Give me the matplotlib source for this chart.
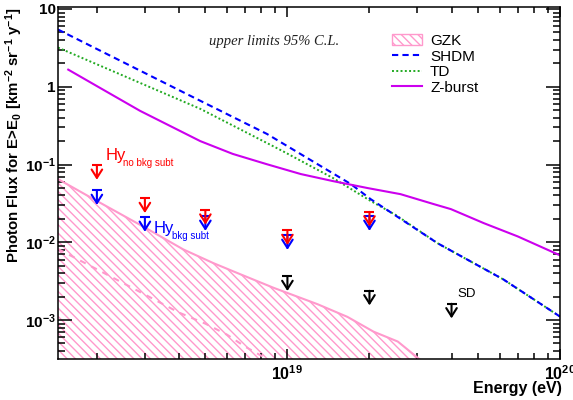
import matplotlib.pyplot as plt
import matplotlib.patches as mpatches
from matplotlib.lines import Line2D
from matplotlib.ticker import FixedLocator, FixedFormatter, NullFormatter, LogLocator

plt.rcParams['font.family'] = ['Liberation Sans', 'DejaVu Sans']
plt.rcParams['mathtext.fontset'] = 'custom'
plt.rcParams['mathtext.rm'] = 'Liberation Sans:bold'
plt.rcParams['mathtext.it'] = 'Liberation Sans:italic:bold'
plt.rcParams['mathtext.bf'] = 'Liberation Sans:bold'
plt.rcParams['hatch.linewidth'] = 1.0

# integral photon flux above E0 [km^-2 sr^-1 y^-1]
gzk_E = [1.44e18, 2.0e18, 3.0e18, 4.15e18, 5.35e18, 6.7e18, 8.9e18, 1.29e19,
         1.66e19, 2.07e19, 2.54e19, 3.03e19, 3.6e19]
gzk_F = [0.065, 0.034, 0.0155, 0.0081, 0.0054, 0.0039, 0.0026, 0.0016,
         0.0011, 0.00071, 0.00053, 0.00032, 0.00018]
gzk_low_E = [1.44e18, 2e18, 3e18, 4e18, 5e18, 6e18, 7e18, 8.5e18]
gzk_low_F = [0.0082, 0.0045, 0.00213, 0.00125, 0.0009, 0.00065, 0.000455, 0.00031]

shdm_E = [1.44e18, 4.79e18, 8.4e18, 1.1e19, 1.71e19, 2.02e19, 3.56e19, 6.2e19, 1.0e20]
shdm_F = [5.44, 0.66, 0.248, 0.141, 0.056, 0.0359, 0.0097, 0.00333, 0.00111]
td_E = [1.44e18, 4.79e18, 9.6e18, 1.47e19, 2.02e19, 2.5e19, 3.56e19, 6.2e19, 1.0e20]
td_F = [3.19, 0.52, 0.149, 0.067, 0.034, 0.0224, 0.0097, 0.00333, 0.00111]
zb_E = [1.57e18, 2.05e18, 2.88e18, 4.79e18, 6.3e18, 8.4e18, 1.12e19, 1.47e19,
        1.97e19, 2.6e19, 3.44e19, 3.98e19, 5.26e19, 7.0e19, 1.0e20]
zb_F = [1.66, 0.97, 0.49, 0.20, 0.137, 0.101, 0.0754, 0.0612, 0.0498, 0.0416,
        0.031, 0.0267, 0.0176, 0.0119, 0.0068]

# upper limits 95% C.L.
hy_E = [2e18, 3e18, 5e18, 1e19, 2e19]
hy_nobkg = [0.098, 0.0366, 0.026, 0.0142, 0.0246]
hy_bkg = [0.0465, 0.021, 0.0216, 0.0123, 0.0216]
sd_E = [1e19, 2e19, 4e19]
sd_F = [0.00364, 0.00238, 0.00162]

pink = '#ff99cc'
hatch = '\\' * 4
W, H = 573, 400

fig = plt.figure(figsize=(W / 100, H / 100), dpi=100)
ax = fig.add_axes([58 / W, 1 - 359 / H, (560 - 58) / W, (359 - 7) / H])
ax.set_xscale('log')
ax.set_yscale('log')
ax.set_xlim(1.44e18, 1e20)
ax.set_ylim(3.16e-4, 10.6)

# GZK band
ax.fill_between(gzk_E, gzk_F, 1e-6, facecolor='none', edgecolor=pink,
                hatch=hatch, linewidth=0)
ax.plot(gzk_E, gzk_F, color=pink, lw=1.5)
ax.plot(gzk_low_E, gzk_low_F, color=pink, lw=1.5, dashes=(3, 3))

# models
ax.plot(td_E, td_F, color='#22aa22', lw=1.4, linestyle=(0, (1, 1.2)))
ax.plot(shdm_E, shdm_F, color='#0000ff', lw=1.5, dashes=(3, 2))
ax.plot(zb_E, zb_F, color='#cc00ee', lw=1.5)


def upper_limits(E, F, color):
    ax.plot(E, F, linestyle='none', marker='_', markersize=7.5,
            markeredgewidth=1.5, color=color)
    for e, f in zip(E, F):
        ax.annotate('', xy=(e, f), xycoords='data', xytext=(0, -10.5),
                    textcoords='offset points',
                    arrowprops=dict(arrowstyle='<-,head_length=0.6,head_width=0.38',
                                    lw=1.5, color=color, shrinkA=0, shrinkB=0,
                                    mutation_scale=10))


upper_limits(hy_E, hy_bkg, '#0000ff')
upper_limits(hy_E, hy_nobkg, '#ff0000')
upper_limits(sd_E, sd_F, 'black')

# ticks
ax.tick_params(which='both', direction='in', top=True, right=True, width=1.1)
ax.tick_params(axis='y', which='major', length=10, pad=1.5)
ax.tick_params(axis='y', which='minor', length=5)
ax.tick_params(axis='x', which='major', length=7.5, pad=4)
ax.tick_params(axis='x', which='minor', length=4)
ax.xaxis.set_major_locator(FixedLocator([1e19, 1e20]))
ax.xaxis.set_major_formatter(FixedFormatter(['$10^{19}$', '$10^{20}$']))
ax.xaxis.set_minor_locator(LogLocator(base=10, subs=range(2, 10)))
ax.xaxis.set_minor_formatter(NullFormatter())
ax.yaxis.set_major_locator(FixedLocator([1e-3, 1e-2, 1e-1, 1, 10]))
ax.yaxis.set_major_formatter(FixedFormatter(['$10^{-3}$', '$10^{-2}$', '$10^{-1}$', '1', '10']))
ax.yaxis.set_minor_locator(LogLocator(base=10, subs=range(2, 10)))
ax.yaxis.set_minor_formatter(NullFormatter())
for lab in ax.get_xticklabels():
    lab.set_fontsize(11.5)
    lab.set_fontweight('bold')
for lab in ax.get_yticklabels():
    lab.set_fontsize(11)
    lab.set_fontweight('bold')
for s in ax.spines.values():
    s.set_linewidth(1.1)

# axis titles
fig.text(14 / W, 1 - 8 / H, 'Photon Flux for E>E$_0$ [km$^{-2}$ sr$^{-1}$ y$^{-1}$]',
         rotation=90, ha='center', va='top', fontsize=10.8, fontweight='bold')
fig.text(562 / W, 1 - 393 / H, 'Energy (eV)', ha='right', va='baseline',
         fontsize=11.5, fontweight='bold')

# annotations


def px(x, y):
    return x / W, 1 - y / H


fig.text(*px(274, 45), 'upper limits 95% C.L.', ha='center', va='baseline',
         fontsize=10.5, style='italic', family='Liberation Serif', color='#222222')
fig.text(*px(106, 160), 'Hy', fontsize=12, color='#ff0000', va='baseline')
fig.text(*px(123, 166), 'no bkg subt', fontsize=7, color='#ff0000', va='baseline')
fig.text(*px(154, 233), 'Hy', fontsize=12, color='#0000ff', va='baseline')
fig.text(*px(172, 239), 'bkg subt', fontsize=7, color='#0000ff', va='baseline')
fig.text(*px(457, 297), 'SD', fontsize=9.5, color='black', va='baseline')

handles = [
    mpatches.Patch(facecolor='white', edgecolor=pink, hatch=hatch, lw=1, label='GZK'),
    Line2D([], [], color='#0000ff', lw=1.5, dashes=(3, 2), label='SHDM'),
    Line2D([], [], color='#22aa22', lw=1.4, linestyle=(0, (1, 1.2)), label='TD'),
    Line2D([], [], color='#cc00ee', lw=1.5, label='Z-burst'),
]
ax.legend(handles=handles, loc='upper left', bbox_to_anchor=(0.665, 0.923),
          frameon=False, fontsize=11, handlelength=2.0, handletextpad=0.5,
          labelspacing=0.1, borderpad=0, borderaxespad=0)

fig.savefig('out.png', dpi=100)
